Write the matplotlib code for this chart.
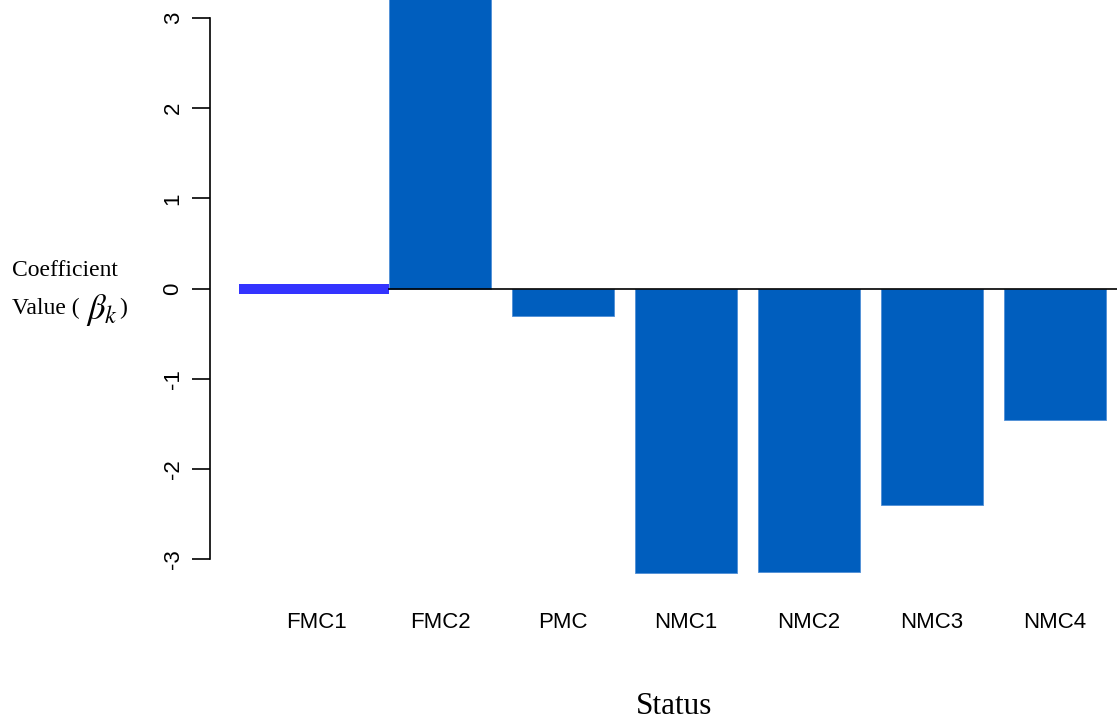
import matplotlib
matplotlib.use("Agg")
import matplotlib.pyplot as plt
import numpy as np

plt.rcParams["mathtext.fontset"] = "stix"

categories = ["FMC1", "FMC2", "PMC", "NMC1", "NMC2", "NMC3", "NMC4"]
values = [-0.06, 3.6, -0.31, -3.15, -3.14, -2.40, -1.46]
y_ticks = [-3, -2, -1, 0, 1, 2, 3]

bar_color = "#005EBE"
ref_color = "#3333FF"

W, H = 1117, 724
fig = plt.figure(figsize=(W / 100, H / 100), dpi=100)

# axes placement in pixels
ax_left, ax_right, ax_top, ax_bottom = 210, 1117, 0, 590
ax = fig.add_axes([ax_left / W, 1 - ax_bottom / H, (ax_right - ax_left) / W, (ax_bottom - ax_top) / H])

px_per_x = 123.0
c0 = 317.0
px_per_y = (559 - 18) / 6.0
y0 = 288.5
ax.set_xlim((ax_left - c0) / px_per_x, (ax_right - c0) / px_per_x)
ax.set_ylim((y0 - ax_bottom) / px_per_y, (y0 - ax_top) / px_per_y)

x = np.arange(len(categories))
width = 1 / 1.2
# reference category drawn as a thick segment
ref_bottom = 0.05
ax.bar(x[0] - 3 / px_per_x, values[0] - ref_bottom, width=150 / px_per_x,
       bottom=ref_bottom, color=ref_color, linewidth=0)
ax.bar(x[1:], values[1:], width=width, color=bar_color, edgecolor="#4F8ED6", linewidth=0.6)
ax.plot([x[1] - width / 2, 10], [0, 0], color="black", lw=1.2, zorder=3)

for s in ["top", "right", "bottom"]:
    ax.spines[s].set_visible(False)
ax.spines["left"].set_bounds(-3, 3)
ax.spines["left"].set_linewidth(1.2)
ax.set_yticks(y_ticks)
ax.set_yticklabels([str(v) for v in y_ticks], rotation=90, va="center",
                   fontsize=16, family="Liberation Sans")
ax.tick_params(axis="y", length=13, width=1.2, pad=6)
ax.set_xticks(x)
ax.set_xticklabels(categories, fontsize=16, family="Liberation Sans")
ax.tick_params(axis="x", length=0, pad=16)
ax.patch.set_visible(False)

serif = "Liberation Serif"
fig.text(12 / W, 1 - 270 / H, "Coefficient", fontsize=17, family=serif, va="center", ha="left")
fig.text(12 / W, 1 - 308 / H, "Value (", fontsize=17, family=serif, va="center", ha="left")
fig.text(86 / W, 1 - 310 / H, r"$\beta_k$", fontsize=25, va="center", ha="left")
fig.text(119 / W, 1 - 308 / H, ")", fontsize=17, family=serif, va="center", ha="left")
fig.text(674 / W, 1 - 707 / H, "Status", fontsize=22.5, family=serif, va="center", ha="center")

fig.savefig("out.png", dpi=100)
